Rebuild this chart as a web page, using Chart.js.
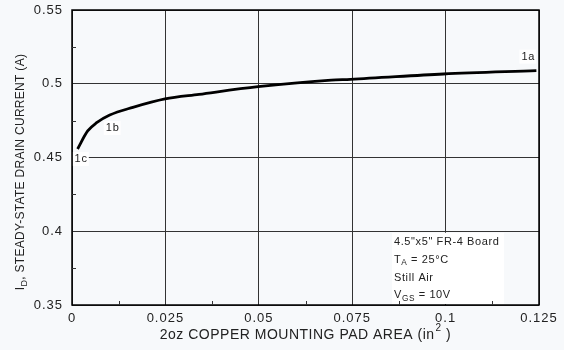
<!DOCTYPE html>
<html>
<head>
<meta charset="utf-8">
<script src="https://cdn.jsdelivr.net/npm/chart.js@4"></script>
<style>
  html, body { margin: 0; padding: 0; background: #f7f9fb; }
  #wrap { width: 564px; height: 350px; }
</style>
</head>
<body>
<div id="wrap"><canvas id="chart" width="564" height="350"></canvas></div>
<script>
'use strict';

// curve (pad area in^2 -> drain current A)
const padArea = [0.0015, 0.0042, 0.0066, 0.0101, 0.0163, 0.0249, 0.034, 0.0498, 0.0694, 0.0745, 0.0994, 0.1243];
const drainCurrent = [0.4558, 0.468, 0.4736, 0.4788, 0.484, 0.4897, 0.4928, 0.498, 0.5025, 0.503, 0.5066, 0.5089];

const xTicks = [0, 0.025, 0.05, 0.075, 0.1, 0.125];
const xTickLabels = ['0', '0.025', '0.05', '0.075', '0.1', '0.125'];
const yTicks = [0.35, 0.4, 0.45, 0.5, 0.55];
const yTickLabels = ['0.35', '0.4', '0.45', '0.5', '0.55'];
const xMinorTicks = [0.0125, 0.0375, 0.0625, 0.0875, 0.1125];
const yMinorTicks = [0.375, 0.425, 0.475, 0.525];

// point tags: which data point they sit by
const pointTags = [
    { text: '1a', index: 11, dx: -15, dy: -14 },
    { text: '1b', index: 3, dx: -4, dy: 13 },
    { text: '1c', index: 0, dx: -3, dy: 10 },
];

const noteLines = ['4.5"x5" FR-4 Board', 'T|A| = 25°C', 'Still Air', 'V|GS| = 10V'];

const FONT = '"Liberation Sans", Arial, sans-serif';

// draw "T|A| = ..." where text between bars is a subscript
function drawSubText(ctx, str, x, y, size) {
    let parts = str.split('|');
    let cx = x;
    for (let i = 0; i < parts.length; i++) {
        let sub = i % 2 === 1;
        ctx.font = (sub ? size * 0.75 : size) + 'px ' + FONT;
        ctx.fillText(parts[i], cx, sub ? y + size * 0.3 : y);
        cx += ctx.measureText(parts[i]).width;
    }
    return cx - x;
}

function subTextWidth(ctx, str, size) {
    let parts = str.split('|');
    let w = 0;
    for (let i = 0; i < parts.length; i++) {
        ctx.font = (i % 2 ? size * 0.75 : size) + 'px ' + FONT;
        w += ctx.measureText(parts[i]).width;
    }
    return w;
}

const decor = {
    id: 'decor',
    beforeDraw(chart) {
        let ctx = chart.ctx;
        ctx.fillStyle = '#f7f9fb';
        ctx.fillRect(0, 0, chart.width, chart.height);
        ctx.letterSpacing = '1px';
    },
    afterDatasetsDraw(chart) {
        let ctx = chart.ctx;
        let a = chart.chartArea;
        let xs = chart.scales.x, ys = chart.scales.y;
        ctx.save();

        // note box
        ctx.fillStyle = '#ffffff';
        ctx.fillRect(392, ys.getPixelForValue(0.4) + 1.5, 112, a.bottom - ys.getPixelForValue(0.4) - 2.5);
        ctx.fillStyle = '#222';
        ctx.textBaseline = 'middle';
        ctx.textAlign = 'left';
        ctx.letterSpacing = '0.6px';
        let ly = 242;
        noteLines.forEach(function (line) {
            drawSubText(ctx, line, 394, ly, 11);
            ly += 17.8;
        });

        // point tags
        ctx.font = '11px ' + FONT;
        ctx.letterSpacing = '0.8px';
        ctx.textAlign = 'left';
        ctx.textBaseline = 'middle';
        pointTags.forEach(function (t) {
            let px = xs.getPixelForValue(padArea[t.index]) + t.dx;
            let py = ys.getPixelForValue(drainCurrent[t.index]) + t.dy;
            let w = ctx.measureText(t.text).width;
            ctx.fillStyle = '#ffffff';
            ctx.fillRect(px - 2, py - 7, w + 3, 14);
            ctx.fillStyle = '#222';
            ctx.fillText(t.text, px, py);
        });

        // border
        ctx.strokeStyle = '#000';
        ctx.lineWidth = 1.5;
        ctx.strokeRect(a.left, a.top, a.right - a.left, a.bottom - a.top);

        // minor ticks
        ctx.lineWidth = 1;
        ctx.strokeStyle = '#333';
        ctx.beginPath();
        xMinorTicks.forEach(function (v) {
            let px = Math.round(xs.getPixelForValue(v)) + 0.5;
            ctx.moveTo(px, a.bottom);
            ctx.lineTo(px, a.bottom - 4);
        });
        yMinorTicks.forEach(function (v) {
            let py = Math.round(ys.getPixelForValue(v)) + 0.5;
            ctx.moveTo(a.left, py);
            ctx.lineTo(a.left + 4, py);
        });
        ctx.stroke();

        // x title with superscript
        let size = 14;
        ctx.letterSpacing = '0.5px';
        ctx.textBaseline = 'middle';
        ctx.font = size + 'px ' + FONT;
        let main = '2oz COPPER MOUNTING PAD AREA (in';
        let tail = ' )';
        let wMain = ctx.measureText(main).width;
        ctx.font = '10px ' + FONT;
        let wSup = ctx.measureText('2').width;
        ctx.font = size + 'px ' + FONT;
        let wTail = ctx.measureText(tail).width;
        let total = wMain + wSup + wTail;
        let tx = 305 - total / 2;
        ctx.fillStyle = '#222';
        ctx.fillText(main, tx, 335);
        ctx.font = '10px ' + FONT;
        ctx.fillText('2', tx + wMain + 1, 328);
        ctx.font = size + 'px ' + FONT;
        ctx.fillText(tail, tx + wMain + wSup + 1, 335);

        // y title rotated
        ctx.letterSpacing = '0.3px';
        ctx.translate(21, 172);
        ctx.rotate(-Math.PI / 2);
        let yTitle = 'I|D|, STEADY-STATE DRAIN CURRENT (A)';
        let wy = subTextWidth(ctx, yTitle, 12);
        drawSubText(ctx, yTitle, -wy / 2, 0, 12);

        ctx.restore();
    }
};

function renderChart() {
    let canvasElem = document.getElementById('chart');
    let points = [];
    for (let i = 0; i < padArea.length; i++) {
        points.push({ x: padArea[i], y: drainCurrent[i] });
    }
    const chartConfig = {
        type: 'line',
        data: {
            datasets: [{
                data: points,
                borderColor: '#000',
                borderWidth: 2.8,
                pointRadius: 0,
                fill: false,
                cubicInterpolationMode: 'monotone',
            }]
        },
        options: {
            responsive: false,
            animation: false,
            layout: { padding: { left: 0, top: 10, right: 25, bottom: 0 } },
            plugins: {
                legend: { display: false },
                tooltip: { enabled: false },
            },
            scales: {
                x: {
                    type: 'linear',
                    min: 0,
                    max: 0.125,
                    afterBuildTicks: function (s) { s.ticks = xTicks.map(v => ({ value: v })); },
                    afterFit: function (s) {
                        s.height = 45;
                        s.paddingLeft = 0;
                        s.paddingRight = 0;
                    },
                    grid: { color: '#333', lineWidth: 1, drawTicks: false },
                    border: { display: false },
                    ticks: {
                        padding: 6,
                        color: '#222',
                        font: { family: FONT, size: 13 },
                        maxRotation: 0,
                        callback: function (v) { return xTickLabels[xTicks.indexOf(v)]; },
                    },
                },
                y: {
                    min: 0.35,
                    max: 0.55,
                    afterBuildTicks: function (s) { s.ticks = yTicks.map(v => ({ value: v })); },
                    afterFit: function (s) {
                        s.width = 72;
                        s.paddingTop = 0;
                        s.paddingBottom = 0;
                    },
                    grid: { color: '#333', lineWidth: 1, drawTicks: false },
                    border: { display: false },
                    ticks: {
                        padding: 9,
                        color: '#222',
                        font: { family: FONT, size: 13 },
                        callback: function (v) { return yTickLabels[yTicks.indexOf(v)]; },
                    },
                },
            },
        },
        plugins: [decor],
    };
    new Chart(canvasElem, chartConfig);
}

renderChart();
</script>
</body>
</html>
